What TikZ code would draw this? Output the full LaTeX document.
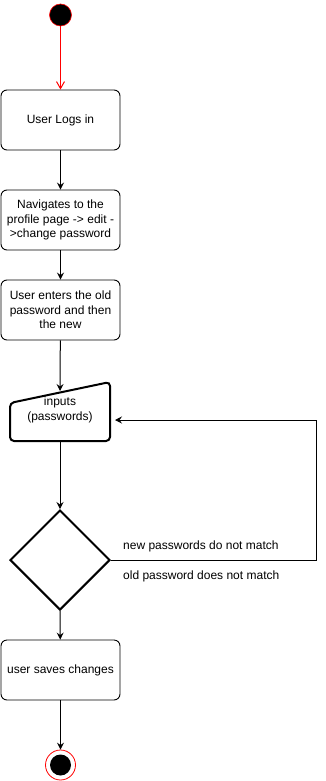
\documentclass[tikz,border=0pt]{standalone}
\usepackage{fontspec}
\setmainfont{Liberation Sans}
\usetikzlibrary{arrows.meta,shapes.geometric}
\definecolor{startred}{RGB}{255,0,0}

\begin{document}
\begin{tikzpicture}[x=1pt,y=-1pt,
  txt/.style={font=\fontsize{12}{14.6}\selectfont, align=center},
  actbox/.style={txt, draw, line width=0.9pt, rounded corners=6pt,
    minimum width=119pt, minimum height=60pt, inner sep=0pt},
  flow/.style={line width=1pt, -{Stealth[length=7pt,width=7pt,inset=2.5pt]}},
  startflow/.style={line width=1pt, draw=startred,
    -{Straight Barb[length=7pt,width=8pt]}},
  guard/.style={font=\fontsize{12}{14}\selectfont, anchor=west, inner sep=0pt}]
\useasboundingbox (0,0) rectangle (325,781);

% initial state
\node (start) [circle, fill=black, draw=startred, line width=0.6pt,
  minimum size=22pt, inner sep=0pt] at (60.5,15) {};

% activities
\node (login) [actbox] at (60.5,120) {User Logs in};
\node (nav)   [actbox] at (60.5,220) {Navigates to the\\profile page -> edit -\\>change password};
\node (enter) [actbox] at (60.5,310) {User enters the old\\password and then\\the new};

% manual input shape
\node (inp) [txt, minimum width=100pt, minimum height=59pt, inner sep=0pt]
  at (60,410) {inputs\\(passwords)};
\draw[line width=2pt, rounded corners=4pt]
  (10,441) -- (10,403) -- (110,382) -- (110,441) -- cycle;
\coordinate (inpTop) at (60,391);
\coordinate (inpBack) at (115,420);
\coordinate (inpBottom) at (60,441);

% decision
\node (dec) [diamond, draw, line width=2pt, minimum width=100pt,
  minimum height=100pt, inner sep=0pt, aspect=1] at (60,560) {};
\coordinate (loopA) at (316,560);
\coordinate (loopB) at (316,420);

\node (save) [actbox] at (60.5,670) {user saves changes};

% final state
\node (endring) [circle, draw=startred, line width=0.8pt, minimum size=30pt,
  inner sep=0pt] at (60.5,765) {};
\node (enddot) [circle, fill=black, minimum size=21pt, inner sep=0pt]
  at (60.5,765) {};

% guard labels
\node (g1) [guard] at (123,546) {new passwords do not match};
\node (g2) [guard] at (123,576) {old password does not match};

% connectors
\draw[startflow] (start) -- (login);
\draw[flow] (login) -- (nav);
\draw[flow] (nav) -- (enter);
\draw[flow] (enter) -- (inpTop);
\draw[flow] (inpBottom) -- (dec.north);
\draw[flow] (dec.east) -- (loopA) -- (loopB) -- (inpBack);
\draw[flow] (dec.south) -- (save);
\draw[flow] (save) -- (endring);
\end{tikzpicture}
\end{document}
